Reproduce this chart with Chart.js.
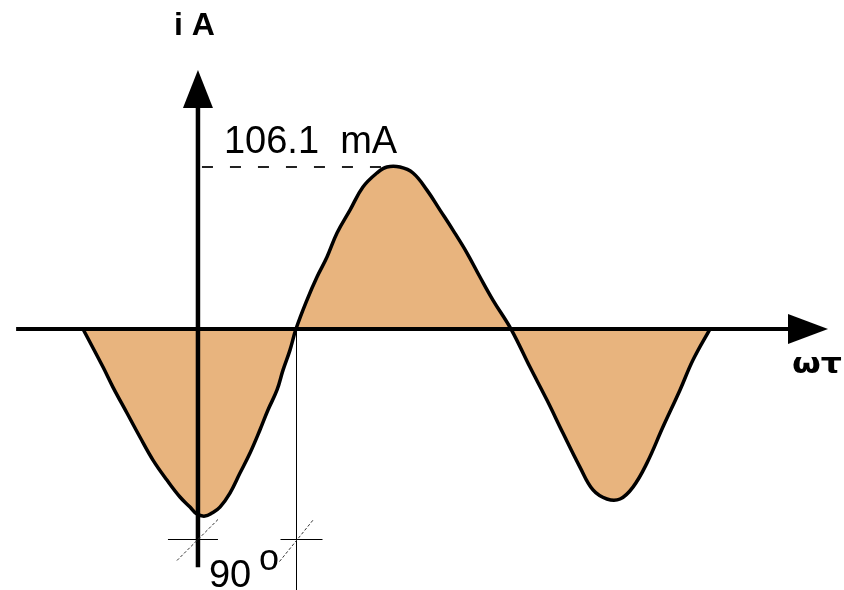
<!DOCTYPE html>
<html>
<head>
<meta charset="utf-8">
<script src="https://cdn.jsdelivr.net/npm/chart.js@4/dist/chart.umd.min.js"></script>
<style>
  html, body { margin: 0; padding: 0; background: #fff; }
  #wrap { width: 844px; height: 590px; position: relative; }
</style>
</head>
<body>
<div id="wrap"><canvas id="c"></canvas></div>
<script>
// Phase angle ωt in degrees and instantaneous current i in mA along the wave
const phaseDeg = [
  -105.6, -87.2, -78.1, -65.2, -53.3, -41.3, -28.5, -16.5, -7.3, -0.9,
  6.4, 12.9, 20.2, 29.4, 38.6, 47.8, 56.9, 64.3, 72.6, 78.1, 84.5, 90.0,
  100.1, 109.3, 118.5, 127.7, 139.6, 151.5, 164.4, 173.6, 185.5, 197.5, 210.3, 222.3,
  234.2, 247.1, 259.0, 270.9, 287.5,
  304.9, 320.5, 335.2, 350.8, 362.8, 375.6, 387.6, 399.5, 412.3, 427.0, 442.7, 454.6, 470.2
];
const currentMA = [
  0, -24.9, -38.0, -55.0, -70.7, -85.8, -98.9, -110.0, -116.6, -121.2,
  -122.5, -120.5, -116.6, -107.4, -94.3, -81.2, -66.1, -53.0, -39.9, -26.9, -13.8, 0,
  19.0, 34.1, 47.2, 62.9, 77.9, 93.0, 102.2, 106.1, 106.1, 102.2, 91.0, 77.9,
  64.8, 49.8, 34.1, 19.0, 0,
  -24.9, -46.5, -68.1, -90.4, -105.4, -111.3, -111.3, -103.5, -87.8, -64.2, -39.9, -20.3, 0
];

// Annotated values
const peakCurrent = 106.1;        // mA, marked with the dashed level line
const peakPhase = 173.6;          // deg, where the dashed line meets the crest
const quarterPhase = 90;          // deg, the 90° span shown under the axis
const spanMarkLevel = -137.5;     // mA, height of the span tick marks
const yAxisLabel = 'i A';
const xAxisLabel = 'ωτ';
const peakText = '106.1  mA';
const spanText = '90';
const degreeText = 'o';

// Axis extents
const xAxisRange = [-167, 578.6];
const yAxisRange = [-156, 169.6];

const points = phaseDeg.map((x, i) => ({ x, y: currentMA[i] }));

const diagramPlugin = {
  id: 'diagram',
  afterDatasetsDraw(chart) {
    const { ctx } = chart;
    const xs = chart.scales.x, ys = chart.scales.y;
    const px = v => xs.getPixelForValue(v);
    const py = v => ys.getPixelForValue(v);
    const x0 = px(0), y0 = py(0);

    ctx.save();
    ctx.strokeStyle = '#000';
    ctx.fillStyle = '#000';
    ctx.lineCap = 'butt';

    // dashed level line at the crest
    ctx.save();
    ctx.setLineDash([11, 17]);
    ctx.lineWidth = 2;
    ctx.strokeStyle = '#222';
    ctx.beginPath();
    ctx.moveTo(x0 + 4, py(peakCurrent));
    ctx.lineTo(px(peakPhase), py(peakCurrent));
    ctx.stroke();
    ctx.restore();

    // horizontal axis with arrow
    const xStart = px(xAxisRange[0]), xTip = px(xAxisRange[1]);
    ctx.lineWidth = 4;
    ctx.beginPath();
    ctx.moveTo(xStart, y0);
    ctx.lineTo(xTip - 30, y0);
    ctx.stroke();
    ctx.beginPath();
    ctx.moveTo(xTip, y0);
    ctx.lineTo(xTip - 40, y0 - 15);
    ctx.lineTo(xTip - 40, y0 + 15);
    ctx.closePath();
    ctx.fill();

    // vertical axis with arrow
    const yBottom = py(yAxisRange[0]), yTip = py(yAxisRange[1]);
    ctx.lineWidth = 4.5;
    ctx.beginPath();
    ctx.moveTo(x0, yBottom);
    ctx.lineTo(x0, yTip + 30);
    ctx.stroke();
    ctx.beginPath();
    ctx.moveTo(x0, yTip);
    ctx.lineTo(x0 - 15, yTip + 38);
    ctx.lineTo(x0 + 15, yTip + 38);
    ctx.closePath();
    ctx.fill();

    // 90° span: thin drop line from the zero crossing and cross marks
    const xq = Math.round(px(quarterPhase)) + 0.5, ym = Math.round(py(spanMarkLevel)) + 0.5;
    ctx.lineWidth = 1;
    ctx.beginPath();
    ctx.moveTo(xq, y0);
    ctx.lineTo(xq, chart.height);
    ctx.stroke();
    ctx.beginPath();
    ctx.moveTo(x0 - 30, ym); ctx.lineTo(x0 + 20, ym);
    ctx.moveTo(xq - 16, ym); ctx.lineTo(xq + 26, ym);
    ctx.stroke();
    ctx.save();
    ctx.strokeStyle = '#333';
    ctx.setLineDash([3, 2]);
    ctx.lineWidth = 1;
    ctx.beginPath();
    ctx.moveTo(x0 - 21, ym + 21); ctx.lineTo(x0 + 21, ym - 21);
    ctx.moveTo(xq - 17, ym + 22); ctx.lineTo(xq + 17, ym - 20);
    ctx.stroke();
    ctx.restore();

    // labels
    ctx.textBaseline = 'alphabetic';
    ctx.textAlign = 'left';
    ctx.font = 'bold 32px "Liberation Sans", Arial, sans-serif';
    ctx.fillText(yAxisLabel, x0 - 24, 35);

    ctx.font = '38px "Liberation Sans", Arial, sans-serif';
    ctx.fillText(peakText, x0 + 26, py(peakCurrent) - 14);

    ctx.fillText(spanText, x0 + 11, 587);
    ctx.font = '36px "Liberation Sans", Arial, sans-serif';
    ctx.fillText(degreeText, x0 + 61, 570);

    ctx.save();
    ctx.font = 'bold 28px "DejaVu Sans", sans-serif';
    const w = ctx.measureText(xAxisLabel).width;
    ctx.translate(xTip - 36, y0 + 44);
    ctx.scale(50 / w, 1);
    ctx.fillText(xAxisLabel, 0, 0);
    ctx.restore();

    ctx.restore();
  }
};

new Chart(document.getElementById('c'), {
  type: 'line',
  data: {
    datasets: [{
      data: points,
      borderColor: '#000',
      borderWidth: 3.5,
      backgroundColor: '#E8B47E',
      fill: 'origin',
      pointRadius: 0,
      tension: 0.4
    }]
  },
  options: {
    responsive: true,
    maintainAspectRatio: false,
    animation: false,
    layout: { padding: 0 },
    plugins: { legend: { display: false }, tooltip: { enabled: false } },
    scales: {
      x: { type: 'linear', min: -181.8, max: 593.3, display: false },
      y: { type: 'linear', min: -170.9, max: 215.5, display: false }
    }
  },
  plugins: [diagramPlugin]
});
</script>
</body>
</html>
